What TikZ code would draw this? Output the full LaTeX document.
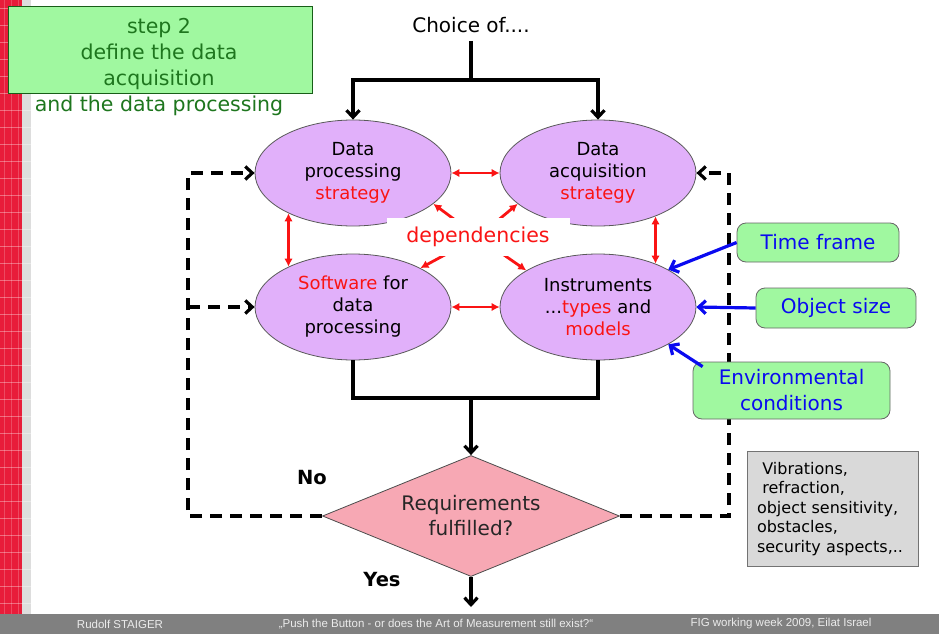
\documentclass[tikz,border=0pt]{standalone}
\usepackage{fontspec}
\setmainfont{DejaVu Sans}
\newfontfamily\footerfont{Liberation Sans}
\usetikzlibrary{shapes.geometric,arrows.meta,calc}

\definecolor{stratfill}{RGB}{225,176,250}
\definecolor{notegreen}{RGB}{160,248,160}
\definecolor{titlegreen}{RGB}{30,118,30}
\definecolor{decisionpink}{RGB}{247,168,180}
\definecolor{notegray}{RGB}{217,217,217}
\definecolor{stripred}{RGB}{232,28,58}
\definecolor{stripgray}{RGB}{221,221,221}
\definecolor{footgray}{RGB}{128,128,128}
\definecolor{depred}{RGB}{250,20,20}
\definecolor{infoblue}{RGB}{10,10,240}

\begin{document}
\begin{tikzpicture}[x=1pt,y=-1pt,
  strat/.style={ellipse, draw=black!65, line width=0.8pt, fill=stratfill,
    minimum width=196pt, minimum height=106pt, inner sep=0pt, align=center,
    font=\fontsize{18}{22}\selectfont},
  flow/.style={line width=3.2pt, -{Straight Barb[length=7pt,width=13pt]}},
  flowline/.style={line width=3.2pt},
  feedback/.style={line width=3.2pt, dash pattern=on 12pt off 8pt,
    -{Straight Barb[length=7pt,width=13pt]}},
  dep/.style={draw=depred, line width=2.8pt, -{Latex[length=8pt,width=8.5pt]}},
  mutual/.style={draw=depred, line width=2.8pt, {Latex[length=8pt,width=8.5pt]}-{Latex[length=8pt,width=8.5pt]}},
  influence/.style={draw=infoblue, line width=3.2pt, -{Straight Barb[length=7pt,width=13pt]}},
  infonote/.style={draw=black!60, line width=0.8pt, fill=notegreen, rounded corners=9pt,
    text=infoblue, align=center, inner sep=0pt, font=\fontsize{20}{26}\selectfont},
  decision/.style={diamond, draw=black!70, line width=0.8pt, fill=decisionpink,
    minimum width=297pt, minimum height=121pt, inner sep=0pt, aspect=2.45,
    align=center, text=black!85, font=\fontsize{20}{25}\selectfont},
  answer/.style={font=\fontsize{19.5}{23}\selectfont\bfseries},
  footer/.style={text=white!92!black, font=\footerfont\fontsize{11.5}{13}\selectfont}]

\useasboundingbox (0,0) rectangle (939,634);

% decorative strip on the left edge
\fill[stripred] (0,0) rectangle (22,614);
\fill[stripgray] (22,0) rectangle (31,614);
\foreach \yy in {8,25,...,606} {
  \draw[white, opacity=0.35, line width=0.6pt] (0,\yy) -- (31,\yy);
}
\foreach \xx in {4,11,18} {
  \draw[white, opacity=0.2, line width=0.6pt] (\xx,0) -- (\xx,614);
}

% footer bar
\fill[footgray] (0,614) rectangle (939,634);
\node[footer] (author) at (120,624) {Rudolf STAIGER};
\node[footer] (talk) at (436,624) {„Push the Button - or does the Art of Measurement still exist?“};
\node[footer] (event) at (781,624) {FIG working week 2009, Eilat Israel};

% title box
\node[draw=titlegreen!80!black, line width=0.8pt, fill=notegreen, minimum width=304pt,
  minimum height=87pt, inner sep=0pt] (titlebox) at (160,49.5) {};
\node[text=titlegreen, align=center, font=\fontsize{20.5}{26}\selectfont] (title) at (159,67)
  {step 2\\define the data\\acquisition\\and the data processing};

% main flow
\node[font=\fontsize{20}{24}\selectfont, inner sep=8pt] (choice) at (471,25) {Choice of....};
\coordinate (split) at (471,80);

\node[strat] (dps) at (353,173) {Data\\processing\\\textcolor{depred}{strategy}};
\node[strat] (das) at (598,173) {Data\\acquisition\\\textcolor{depred}{strategy}};
\node[strat] (sw) at (353,307) {\textcolor{depred}{Software} for\\data\\processing};
\node[strat] (inst) at (598,307) {Instruments\\...\textcolor{depred}{types} and\\\textcolor{depred}{models}};

\draw[flowline] (choice.south) -- (split);
\draw[flow] (split) -| (dps.north);
\draw[flow] (split) -| (das.north);

% mutual dependencies
\draw[mutual] (dps.east) -- (das.west);
\draw[mutual] (sw.east) -- (inst.west);
\draw[mutual] (dps.212) -- (sw.148);
\draw[mutual] (das.-37) -- (inst.37);

\coordinate (depc) at (478,237);
\draw[dep] (depc) -- (dps.-21);
\draw[dep] (depc) -- (das.-159);
\draw[dep] (depc) -- (sw.30);
\draw[dep] (depc) -- (inst.153);
\node[fill=white, minimum width=183pt, minimum height=38pt, inner sep=0pt, text=depred,
  font=\fontsize{20.5}{24}\selectfont] (dep) at (depc) {dependencies};

% decision
\coordinate (join) at (471,398);
\node[decision] (req) at (471,516) {Requirements\\fulfilled?};
\draw[flowline] (sw.south) |- (join);
\draw[flowline] (inst.south) |- (join);
\draw[flow] (join) -- (req.north);

\coordinate (done) at (471,607);
\draw[flow] (req.south) -- (done);
\node[answer] (no) at (312,478) {No};
\node[answer] (yes) at (382,580) {Yes};

% feedback loops
\coordinate (lbot) at (188,516);
\coordinate (ltop) at (188,173);
\coordinate (lmid) at (188,307);
\coordinate (rbot) at (729,516);
\coordinate (rtop) at (729,173);
\draw[feedback] (req.west) -- (lbot) -- (ltop) -- (dps.west);
\draw[feedback] (lmid) -- (sw.west);
\draw[feedback] (req.east) -- (rbot) -- (rtop) -- (das.east);

% external influences
\node[infonote, minimum width=162pt, minimum height=39pt] (time) at (818,242.5) {Time frame};
\node[infonote, minimum width=160pt, minimum height=40pt] (size) at (836,308) {Object size};
\node[infonote, minimum width=197pt, minimum height=57pt] (env) at (791.5,390.5) {Environmental\\conditions};
\draw[influence] (time.west) -- (inst.28);
\draw[influence] (size.west) -- (inst.east);
\draw[influence] ($(env.north west)+(10,5)$) -- (inst.-28);

% list of further conditions
\node[draw=black!55, line width=0.8pt, fill=notegray, text width=151pt, inner xsep=10pt,
  minimum height=115pt, align=left, font=\fontsize{16}{19.5}\selectfont] (extra) at (832.5,509)
  {\ Vibrations,\\\ refraction,\\object sensitivity,\\obstacles,\\security aspects,..};

\end{tikzpicture}
\end{document}
